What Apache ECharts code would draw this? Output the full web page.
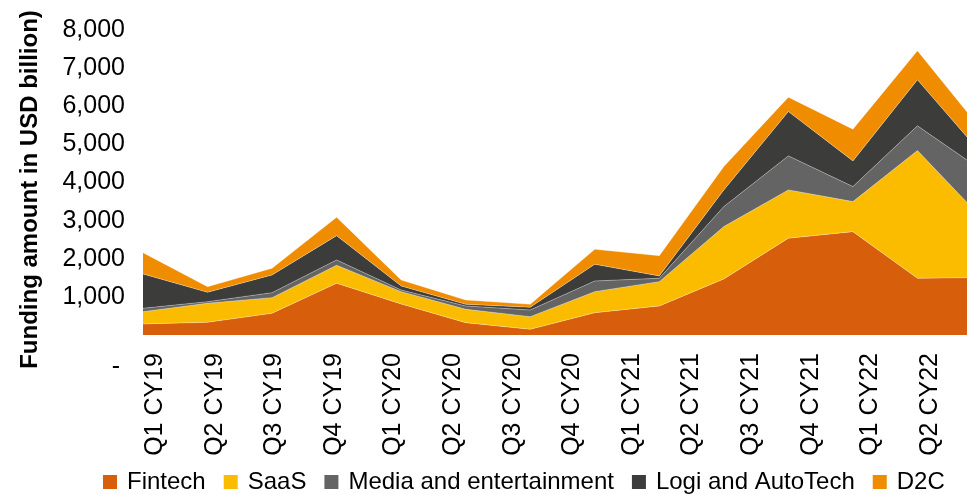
<!DOCTYPE html>
<html>
<head>
<meta charset="utf-8">
<script src="https://cdn.jsdelivr.net/npm/echarts@6/dist/echarts.min.js"></script>
<style>
  html, body { margin: 0; padding: 0; background: #ffffff; }
  #chart { width: 967px; height: 494px; }
</style>
</head>
<body>
<div id="chart"></div>
<script>
// Quarterly funding by sector (USD billion)
const quarters = ['Q1 CY19', 'Q2 CY19', 'Q3 CY19', 'Q4 CY19', 'Q1 CY20', 'Q2 CY20', 'Q3 CY20',
                  'Q4 CY20', 'Q1 CY21', 'Q2 CY21', 'Q3 CY21', 'Q4 CY21', 'Q1 CY22', 'Q2 CY22'];
const fintech = [289, 333, 570, 1357, 814, 323, 150, 585, 761, 1470, 2538, 2711, 1488, 1509];
const saas    = [323, 499, 410, 472, 323, 352, 330, 552, 639, 1373, 1268, 788, 3349, 1553];
const media   = [88, 42, 130, 140, 44, 86, 176, 280, 88, 525, 892, 393, 649, 1254];
const logi    = [901, 247, 465, 637, 105, 45, 71, 438, 61, 438, 1163, 675, 1207, 427];
const d2c     = [559, 147, 175, 483, 158, 113, 79, 394, 532, 611, 378, 832, 761, 623];

const seriesNames = ['Fintech', 'SaaS', 'Media and entertainment', 'Logi and AutoTech', 'D2C'];
const seriesData = [fintech, saas, media, logi, d2c];
const seriesColors = ['#D75E0B', '#FBBC00', '#646464', '#3C3C3B', '#F08C00'];

const yMin = 0, yMax = 8000, yStep = 1000;
const zeroLabel = '-';
const yTitle = 'Funding amount in USD billion)';

const FONT = '"Liberation Sans", Arial, Helvetica, sans-serif';

const chart = echarts.init(document.getElementById('chart'), null, { renderer: 'canvas' });

chart.setOption({
  animation: false,
  textStyle: { fontFamily: FONT, color: '#000' },
  grid: [
    // plot area for the stacked areas (last quarter runs past the right edge)
    { left: 143, right: -15, top: 30, bottom: 159, containLabel: false, outerBoundsMode: 'none' },
    // category labels row
    { left: 155, right: 37, top: 30, bottom: 159, containLabel: false, outerBoundsMode: 'none' }
  ],
  xAxis: [
    {
      gridIndex: 0, type: 'category', data: quarters, boundaryGap: false,
      axisLine: { show: false }, axisTick: { show: false },
      axisLabel: { show: false }, splitLine: { show: false }
    },
    {
      gridIndex: 1, type: 'category', data: quarters, boundaryGap: false,
      axisLine: { show: false }, axisTick: { show: false }, splitLine: { show: false },
      axisLabel: {
        rotate: 90, margin: 18, interval: 0,
        fontSize: 25, color: '#000', fontFamily: FONT
      }
    }
  ],
  yAxis: [
    {
      gridIndex: 0, type: 'value', min: yMin, max: yMax, interval: yStep,
      axisLine: { show: false }, axisTick: { show: false }, splitLine: { show: false },
      axisLabel: {
        margin: 18, fontSize: 25, color: '#000', fontFamily: FONT,
        formatter: v => v === 0 ? '{z|' + zeroLabel + '}' : v.toLocaleString('en-US'),
        rich: { z: { fontSize: 25, color: '#000', fontFamily: FONT, padding: [64, 5, 0, 0] } }
      },
      name: yTitle, nameLocation: 'middle', nameGap: 101, nameRotate: 90,
      nameTextStyle: {
        fontSize: 24, fontWeight: 'bold', color: '#000', fontFamily: FONT,
        padding: [0, 14, 0, 0]
      }
    },
    { gridIndex: 1, type: 'value', show: false }
  ],
  legend: {
    left: 103, top: 470, width: 864, padding: 0, itemGap: 18,
    itemWidth: 14, itemHeight: 14, icon: 'rect',
    data: seriesNames,
    textStyle: { fontSize: 24, color: '#000', fontFamily: FONT, padding: [0, 0, 0, 5] }
  },
  series: seriesNames.map((name, i) => ({
    name,
    type: 'line',
    xAxisIndex: 0, yAxisIndex: 0,
    stack: 'funding',
    data: seriesData[i],
    symbol: 'none',
    color: seriesColors[i],
    lineStyle: { width: 0.6, color: 'rgba(255,255,255,0.55)' },
    areaStyle: { color: seriesColors[i], opacity: 1 },
    itemStyle: { color: seriesColors[i] }
  }))
});
</script>
</body>
</html>
